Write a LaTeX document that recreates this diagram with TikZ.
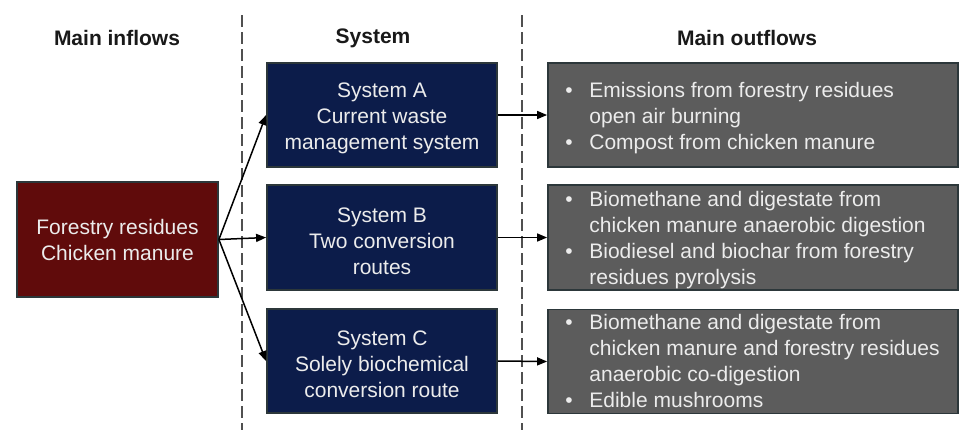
\documentclass[tikz,border=0pt]{standalone}
\usepackage{fontspec}
\setmainfont{Liberation Sans}
\usetikzlibrary{arrows.meta}
\definecolor{inflowred}{HTML}{600B0B}
\definecolor{systemblue}{HTML}{0C1C4A}
\definecolor{outgrey}{HTML}{5C5C5C}
\definecolor{edgegrey}{HTML}{2C373A}
\definecolor{boxtext}{HTML}{ECECEC}
\definecolor{divider}{HTML}{505050}
% strut that adds a little room above the first line of a box
\newcommand{\topgap}{\rule{0pt}{11pt}}
\begin{document}
\begin{tikzpicture}[x=0.5pt,y=-0.5pt,
  base/.style={font=\fontsize{10.5}{13}\selectfont, text=boxtext, draw=edgegrey,
    line width=0.9pt, inner sep=0pt},
  inbox/.style={base, fill=inflowred, minimum width=100.5pt, minimum height=57.5pt, align=center},
  sysbox/.style={base, fill=systemblue, minimum width=115pt, minimum height=52pt, align=center},
  outbox/.style={base, fill=outgrey, minimum width=205pt, minimum height=52pt},
  outtext/.style={font=\fontsize{10.5}{13}\selectfont, text=boxtext, inner sep=0pt, anchor=west},
  heading/.style={font=\fontsize{10.5}{12.75}\selectfont\bfseries, text=black!90},
  divline/.style={draw=divider, line width=1pt, dash pattern=on 6pt off 2.5pt},
  flow/.style={draw=black, line width=0.75pt, -{Triangle[length=5pt,width=4pt]}}]

% page area
\useasboundingbox[fill=white] (0,0) rectangle (961,430);

% column dividers
\coordinate (d1top) at (242,15);
\coordinate (d1bot) at (242,430);
\coordinate (d2top) at (522,15);
\coordinate (d2bot) at (522,430);
\draw[divline] (d1top) -- (d1bot);
\draw[divline] (d2top) -- (d2bot);

% column headings
\node[heading] (hin)  at (117,38) {Main inflows};
\node[heading] (hsys) at (373,38) {System};
\node[heading] (hout) at (747,38) {Main outflows};

% inflow box
\node[inbox] (inflow) at (117.5,239.5) {Forestry residues\\Chicken manure};

% system boxes
\node[sysbox] (sysA) at (382,115) {\topgap System A\\Current waste\\management system};
\node[sysbox, minimum height=52.5pt] (sysB) at (382,237.5) {\topgap System B\\Two conversion\\routes};
\node[sysbox] (sysC) at (382,361) {\topgap System C\\Solely biochemical\\conversion route};

% outflow boxes
\node[outbox] (outA) at (753,115) {};
\node[outbox, minimum height=52.5pt] (outB) at (753,237.5) {};
\node[outbox] (outC) at (753,361.5) {};

% outflow texts
\node[outtext] (tA) at (565,118) {\begin{tabular}{@{}p{12pt}@{}l@{}}
\textbullet & Emissions from forestry residues\\
 & open air burning\\
\textbullet & Compost from chicken manure
\end{tabular}};
\node[outtext] (tB) at (565,240.5) {\begin{tabular}{@{}p{12pt}@{}l@{}}
\textbullet & Biomethane and digestate from\\
 & chicken manure anaerobic digestion\\
\textbullet & Biodiesel and biochar from forestry\\
 & residues pyrolysis
\end{tabular}};
\node[outtext] (tC) at (565,363) {\begin{tabular}{@{}p{12pt}@{}l@{}}
\textbullet & Biomethane and digestate from\\
 & chicken manure and forestry residues\\
 & anaerobic co-digestion\\
\textbullet & Edible mushrooms
\end{tabular}};

% flows from the inflow to each system
\draw[flow] (inflow.east) -- (sysA.west);
\draw[flow] (inflow.east) -- (sysB.west);
\draw[flow] (inflow.east) -- (sysC.west);

% flows from each system to its outflows
\draw[flow] (sysA.east) -- (outA.west);
\draw[flow] (sysB.east) -- (outB.west);
\draw[flow] (sysC.east) -- (outC.west);
\end{tikzpicture}
\end{document}
